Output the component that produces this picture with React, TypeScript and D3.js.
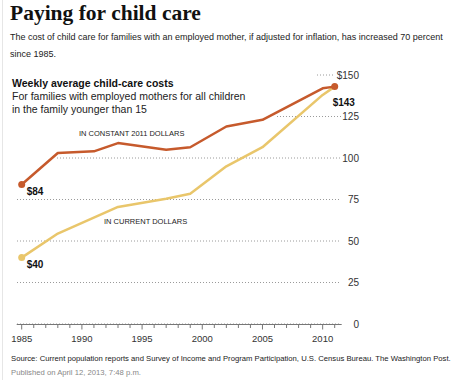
import React from "react";
import * as d3 from "d3";

const constantYears = [1985, 1988, 1991, 1993, 1997, 1999, 2002, 2005, 2010, 2011];
const constantValues = [84, 103, 104, 109, 105, 106.5, 119, 123, 142, 143];
const currentYears = [1985, 1988, 1993, 1997, 1999, 2002, 2005, 2010, 2011];
const currentValues = [40, 54.5, 70.5, 75.5, 78.5, 95, 106.5, 138, 143];
const yTicks = [0, 25, 50, 75, 100, 125, 150];
const yTickLabels = ["0", "25", "50", "75", "100", "125", "$150"];
const xTickYears = d3.range(1985, 2012);
const xLabelYears = [1985, 1990, 1995, 2000, 2005, 2010];

const ORANGE = "#c65a2c";
const YELLOW = "#e9c66b";
const SANS = "'Liberation Sans', Arial, sans-serif";

export default function App() {
  const W = 457, H = 380;
  const x = d3.scaleLinear().domain([1985, 2011]).range([21.7, 334.7]);
  const y = d3.scaleLinear().domain([0, 150]).range([324, 75]);
  const line = d3.line<[number, number]>().x(d => x(d[0])).y(d => y(d[1]));
  const cData = constantYears.map((yr, i) => [yr, constantValues[i]] as [number, number]);
  const uData = currentYears.map((yr, i) => [yr, currentValues[i]] as [number, number]);
  // gridline start (hidden behind text block) per tick
  const gridStart = (v: number) => (v === 150 ? 317 : v === 125 ? 277 : v === 100 ? 57 : 17);
  const gridEnd = (v: number) => (v === 150 ? 335 : 341);
  const axisEnd = x(2011.58);

  return (
    <svg width={W} height={H} style={{ position: "absolute", left: 0, top: 0, background: "#fff" }}>
      <line x1={2.5} x2={2.5} y1={0} y2={H} stroke="#e6e6e6" />
      <text x={10} y={20} fontFamily="'Liberation Serif', 'Times New Roman', serif" fontWeight="bold" fontSize={21.5} fill="#111">
        Paying for child care
      </text>
      <text x={10} y={40} fontFamily={SANS} fontSize={9} fill="#222">
        The cost of child care for families with an employed mother, if adjusted for inflation, has increased 70 percent
      </text>
      <text x={10} y={57} fontFamily={SANS} fontSize={9} fill="#222">since 1985.</text>

      {yTicks.map((v, i) => (
        <g key={v}>
          <line x1={gridStart(v)} x2={gridEnd(v)} y1={y(v)} y2={y(v)} stroke="#9a9a9a" strokeWidth={1} strokeDasharray="1,2" />
          <text x={359} y={y(v) + 3.5} textAnchor="end" fontFamily={SANS} fontSize={10} fill="#333">
            {yTickLabels[i]}
          </text>
        </g>
      ))}

      <text x={12} y={87} fontFamily={SANS} fontWeight="bold" fontSize={10.5} fill="#111">
        Weekly average child-care costs
      </text>
      <text x={12} y={100} fontFamily={SANS} fontSize={10.5} fill="#222">
        For families with employed mothers for all children
      </text>
      <text x={12} y={113} fontFamily={SANS} fontSize={10.5} fill="#222">
        in the family younger than 15
      </text>

      <line x1={x(1985) - 5} x2={axisEnd} y1={324.5} y2={324.5} stroke="#777" strokeWidth={1.2} />
      {xTickYears.map(yr => (
        <line key={yr} x1={x(yr)} x2={x(yr)} y1={324.5} y2={yr % 5 === 0 ? 329.5 : 328} stroke="#777" strokeWidth={1} />
      ))}
      {xLabelYears.map(yr => (
        <text key={yr} x={x(yr)} y={342} textAnchor="middle" fontFamily={SANS} fontSize={9.5} fill="#333">
          {yr}
        </text>
      ))}

      <path d={line(uData) || ""} fill="none" stroke={YELLOW} strokeWidth={2.5} strokeLinejoin="round" />
      <path d={line(cData) || ""} fill="none" stroke={ORANGE} strokeWidth={2.5} strokeLinejoin="round" />
      <circle cx={x(1985)} cy={y(currentValues[0])} r={3.5} fill={YELLOW} />
      <circle cx={x(1985)} cy={y(constantValues[0])} r={3.5} fill={ORANGE} />
      <circle cx={x(2011)} cy={y(constantValues[constantValues.length - 1])} r={3.5} fill={ORANGE} />

      <text x={x(1985) + 5} y={y(constantValues[0]) + 10} fontFamily={SANS} fontWeight="bold" fontSize={10} fill="#111">$84</text>
      <text x={x(1985) + 5} y={y(currentValues[0]) + 10} fontFamily={SANS} fontWeight="bold" fontSize={10} fill="#111">$40</text>
      <text x={x(2011) - 2} y={y(143) + 19} fontFamily={SANS} fontWeight="bold" fontSize={10} fill="#111">$143</text>

      <text x={79} y={136} fontFamily={SANS} fontSize={7.5} fill="#222">IN CONSTANT 2011 DOLLARS</text>
      <text x={104} y={224} fontFamily={SANS} fontSize={7.5} fill="#222">IN CURRENT DOLLARS</text>

      <text x={11} y={361} fontFamily={SANS} fontSize={7.7} fill="#222">
        Source: Current population reports and Survey of Income and Program Participation, U.S. Census Bureau. The Washington Post.
      </text>
      <text x={11} y={375} fontFamily={SANS} fontSize={7.7} fill="#888">
        Published on April 12, 2013, 7:48 p.m.
      </text>
    </svg>
  );
}
